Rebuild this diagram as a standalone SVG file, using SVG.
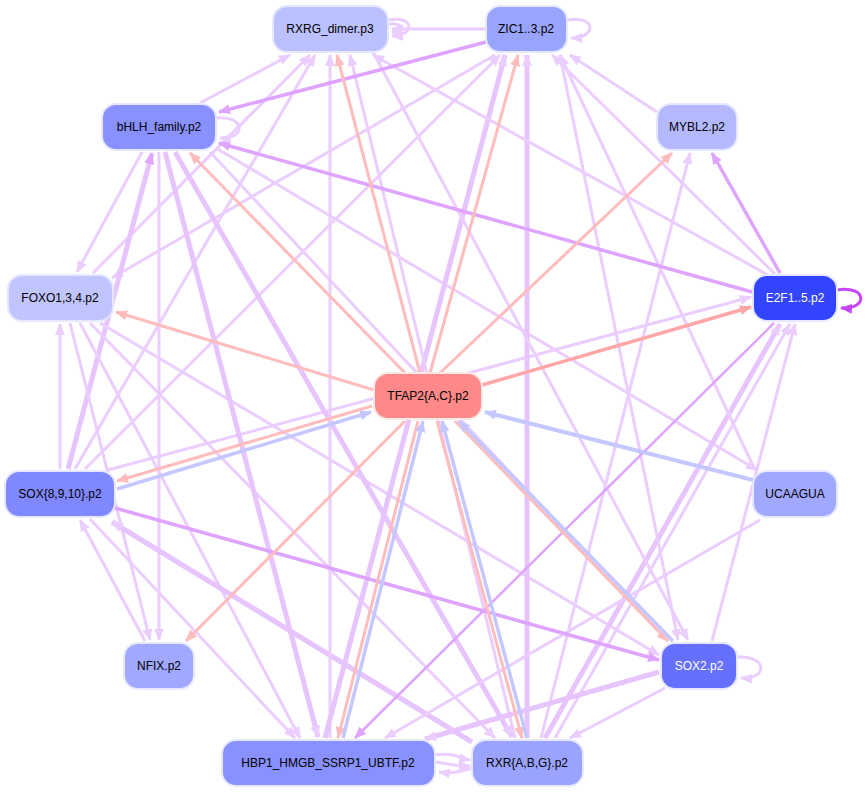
<svg xmlns="http://www.w3.org/2000/svg" width="868" height="793" viewBox="0 0 868 793">
<defs>
<style>
.n rect{stroke:#e6e8ff;stroke-width:2}
.n text{font-family:"Liberation Sans",Arial,sans-serif;font-size:12px;text-anchor:middle;dominant-baseline:central;fill:#000}
.w text{fill:#fff}
.e line,.e path{fill:none}
.lp{stroke:#ebcdff;stroke-width:3}
.lpt{stroke:#e8c4ff;stroke-width:5}
.mp{stroke:#dea4ff;stroke-width:3.5}
.pk{stroke:#ffbcbc;stroke-width:3}
.rd{stroke:#ffa6a6;stroke-width:3.5}
.bl{stroke:#c4c8ff;stroke-width:3.5}
.mg{stroke:#c844ff;stroke-width:3}
</style>
<marker id="alp" markerUnits="userSpaceOnUse" markerWidth="12" markerHeight="10" refX="11" refY="5" orient="auto"><path d="M0,0L12,5L0,10z" fill="#ebcdff"/></marker>
<marker id="amp" markerUnits="userSpaceOnUse" markerWidth="12" markerHeight="10" refX="11" refY="5" orient="auto"><path d="M0,0L12,5L0,10z" fill="#dea4ff"/></marker>
<marker id="apk" markerUnits="userSpaceOnUse" markerWidth="12" markerHeight="10" refX="11" refY="5" orient="auto"><path d="M0,0L12,5L0,10z" fill="#ffbcbc"/></marker>
<marker id="ard" markerUnits="userSpaceOnUse" markerWidth="12" markerHeight="10" refX="11" refY="5" orient="auto"><path d="M0,0L12,5L0,10z" fill="#ffa6a6"/></marker>
<marker id="abl" markerUnits="userSpaceOnUse" markerWidth="12" markerHeight="10" refX="11" refY="5" orient="auto"><path d="M0,0L12,5L0,10z" fill="#c4c8ff"/></marker>
<marker id="amg" markerUnits="userSpaceOnUse" markerWidth="12" markerHeight="10" refX="11" refY="5" orient="auto"><path d="M0,0L12,5L0,10z" fill="#c844ff"/></marker>
</defs>
<rect width="868" height="793" fill="#fff"/>
<g id="edges" class="e">
<!-- light purple -->
<line class="lp" x1="200" y1="103" x2="290" y2="55" marker-end="url(#alp)"/>
<line class="lp" x1="142" y1="152" x2="77" y2="272" marker-end="url(#alp)"/>
<line class="lp" x1="93" y1="273" x2="310" y2="55" marker-end="url(#alp)"/>
<line class="lp" x1="495" y1="55" x2="112" y2="278" marker-end="url(#alp)"/>
<line class="lp" x1="60" y1="469" x2="60" y2="324" marker-end="url(#alp)"/>
<line class="lpt" x1="68" y1="469" x2="152" y2="153" marker-end="url(#amp)"/>
<line class="lp" x1="75" y1="469" x2="315" y2="55" marker-end="url(#alp)"/>
<line class="lp" x1="85" y1="469" x2="500" y2="55" marker-end="url(#alp)"/>
<line class="lp" x1="108" y1="470" x2="751" y2="297" marker-end="url(#alp)"/>
<line class="lp" x1="159" y1="152" x2="159" y2="640" marker-end="url(#alp)"/>
<line class="lp" x1="70" y1="323" x2="150" y2="640" marker-end="url(#alp)"/>
<line class="lp" x1="145" y1="641" x2="80" y2="520" marker-end="url(#alp)"/>
<line class="lp" x1="80" y1="323" x2="300" y2="738" marker-end="url(#alp)"/>
<line class="lp" x1="90" y1="323" x2="495" y2="738" marker-end="url(#alp)"/>
<line class="lp" x1="100" y1="323" x2="659" y2="655" marker-end="url(#alp)"/>
<line class="lpt" x1="165" y1="152" x2="318" y2="737" marker-end="url(#alp)"/>
<line class="lpt" x1="175" y1="152" x2="512" y2="737" marker-end="url(#alp)"/>
<line class="lp" x1="210" y1="152" x2="668" y2="641" marker-end="url(#alp)"/>
<line class="lp" x1="216" y1="148" x2="757" y2="470" marker-end="url(#alp)"/>
<line class="lpt" x1="472" y1="742" x2="112" y2="522" marker-end="url(#alp)"/>
<line class="lp" x1="90" y1="519" x2="295" y2="738" marker-end="url(#alp)"/>
<line class="lp" x1="330" y1="738" x2="330" y2="55" marker-end="url(#alp)"/>
<line class="lpt" x1="325" y1="738" x2="505" y2="55" marker-end="url(#alp)"/>
<line class="lpt" x1="527" y1="738" x2="527" y2="55" marker-end="url(#alp)"/>
<line class="lp" x1="515" y1="738" x2="350" y2="55" marker-end="url(#alp)"/>
<line class="lp" x1="541" y1="738" x2="690" y2="153" marker-end="url(#alp)"/>
<line class="lpt" x1="545" y1="738" x2="780" y2="324" marker-end="url(#alp)"/>
<line class="lp" x1="555" y1="738" x2="790" y2="324" marker-end="url(#alp)"/>
<line class="lp" x1="712" y1="641" x2="795" y2="324" marker-end="url(#alp)"/>
<line class="lp" x1="560" y1="55" x2="678" y2="640" marker-end="url(#alp)"/>
<line class="lp" x1="373" y1="52" x2="688" y2="640" marker-end="url(#alp)"/>
<line class="lp" x1="768" y1="275" x2="373" y2="55" marker-end="url(#alp)"/>
<line class="lp" x1="775" y1="274" x2="552" y2="55" marker-end="url(#alp)"/>
<line class="lp" x1="657" y1="112" x2="570" y2="55" marker-end="url(#alp)"/>
<line class="lp" x1="486" y1="29" x2="392" y2="29" marker-end="url(#alp)"/>
<line class="lp" x1="760" y1="520" x2="385" y2="738" marker-end="url(#alp)"/>
<line class="lp" x1="665" y1="688" x2="570" y2="738" marker-end="url(#alp)"/>
<line class="lpt" x1="659" y1="672" x2="425" y2="739" marker-end="url(#alp)"/>
<line class="lp" x1="755" y1="470" x2="560" y2="55" marker-end="url(#alp)"/>
<!-- mid purple -->
<line class="mp" x1="752" y1="292" x2="219" y2="143" marker-end="url(#amp)"/>
<line class="mp" x1="486" y1="42" x2="219" y2="112" marker-end="url(#amp)"/>
<line class="mp" x1="780" y1="273" x2="712" y2="153" marker-end="url(#amp)"/>
<line class="mp" x1="115" y1="508" x2="659" y2="660" marker-end="url(#amp)"/>
<line class="mp" x1="774" y1="323" x2="355" y2="738" marker-end="url(#amp)" style="stroke-width:2.5"/>
<!-- pink / red -->
<line class="pk" x1="405" y1="373" x2="190" y2="153" marker-end="url(#apk)"/>
<line class="pk" x1="420" y1="373" x2="337" y2="55" marker-end="url(#apk)"/>
<line class="pk" x1="430" y1="373" x2="518" y2="55" marker-end="url(#apk)"/>
<line class="pk" x1="440" y1="373" x2="672" y2="153" marker-end="url(#apk)"/>
<line class="rd" x1="482" y1="385" x2="751" y2="307" marker-end="url(#ard)"/>
<line class="pk" x1="374" y1="390" x2="116" y2="312" marker-end="url(#apk)"/>
<line class="pk" x1="372" y1="406" x2="117" y2="481" marker-end="url(#apk)"/>
<line class="bl" x1="117" y1="489" x2="371" y2="412" marker-end="url(#abl)"/>
<line class="pk" x1="405" y1="421" x2="186" y2="641" marker-end="url(#apk)"/>
<line class="pk" x1="418" y1="421" x2="338" y2="738" marker-end="url(#apk)"/>
<line class="bl" x1="343" y1="738" x2="423" y2="421" marker-end="url(#abl)"/>
<line class="pk" x1="437" y1="421" x2="522" y2="738" marker-end="url(#apk)"/>
<line class="bl" x1="527" y1="738" x2="442" y2="421" marker-end="url(#abl)"/>
<line class="pk" x1="455" y1="421" x2="668" y2="641" marker-end="url(#apk)"/>
<line class="bl" x1="673" y1="641" x2="459" y2="421" marker-end="url(#abl)"/>
<line class="bl" x1="753" y1="480" x2="485" y2="412" marker-end="url(#abl)" style="stroke-width:4"/>
<!-- self loops -->
<path class="lp" d="M388,20 C415,15 415,36 392,36" marker-end="url(#alp)"/>
<path class="lp" d="M388,24 C405,22 405,34 392,32" marker-end="url(#alp)"/>
<path class="lp" d="M567,20 C597,15 597,38 571,38" marker-end="url(#alp)"/>
<path class="lp" d="M216,118 C246,115 246,140 220,138" marker-end="url(#alp)"/>
<path class="mg" d="M837,290 C868,285 868,310 841,308" marker-end="url(#amg)"/>
<path class="lp" d="M737,657 C768,655 768,680 741,678" marker-end="url(#alp)"/>
<path class="lp" d="M435,755 C455,752 458,758 470,760" marker-end="url(#alp)"/>
<path class="lp" d="M472,768 C458,772 452,774 439,772" marker-end="url(#alp)"/>
<path class="lp" d="M435,762 C455,765 458,766 470,766" marker-end="url(#alp)"/>
</g>
<g id="RXRG_dimer" class="n"><rect x="273" y="6" width="115" height="46" rx="14" fill="#bbc0ff"/><text x="330" y="29">RXRG_dimer.p3</text></g>
<g id="ZIC" class="n"><rect x="486" y="6" width="81" height="46" rx="14" fill="#99a4ff"/><text x="526" y="29">ZIC1..3.p2</text></g>
<g id="bHLH" class="n"><rect x="102" y="104" width="114" height="46" rx="14" fill="#8891ff"/><text x="159" y="127">bHLH_family.p2</text></g>
<g id="MYBL2" class="n"><rect x="657" y="104" width="80" height="46" rx="14" fill="#b3b8ff"/><text x="697" y="127">MYBL2.p2</text></g>
<g id="FOXO" class="n"><rect x="8" y="275" width="105" height="46" rx="14" fill="#c0c4ff"/><text x="60" y="298">FOXO1,3,4.p2</text></g>
<g id="E2F" class="n w"><rect x="753" y="275" width="84" height="46" rx="14" fill="#3344ff"/><text x="795" y="298">E2F1..5.p2</text></g>
<g id="TFAP2" class="n"><rect x="374" y="373" width="108" height="46" rx="14" fill="#ff8888" style="stroke:#ffe8e8"/><text x="428" y="396">TFAP2{A,C}.p2</text></g>
<g id="SOX8910" class="n"><rect x="5" y="471" width="110" height="46" rx="14" fill="#8088ff"/><text x="60" y="494">SOX{8,9,10}.p2</text></g>
<g id="UCAAGUA" class="n"><rect x="753" y="471" width="84" height="46" rx="14" fill="#a0a8ff"/><text x="795" y="494">UCAAGUA</text></g>
<g id="NFIX" class="n"><rect x="124" y="643" width="70" height="46" rx="14" fill="#a0a8ff"/><text x="159" y="666">NFIX.p2</text></g>
<g id="SOX2" class="n w"><rect x="661" y="643" width="76" height="46" rx="14" fill="#6670ff"/><text x="699" y="666">SOX2.p2</text></g>
<g id="HBP1" class="n"><rect x="222" y="740" width="213" height="46" rx="14" fill="#8891ff"/><text x="328" y="763">HBP1_HMGB_SSRP1_UBTF.p2</text></g>
<g id="RXRABG" class="n"><rect x="472" y="740" width="111" height="46" rx="14" fill="#9aa3ff"/><text x="527" y="763">RXR{A,B,G}.p2</text></g>
</svg>
